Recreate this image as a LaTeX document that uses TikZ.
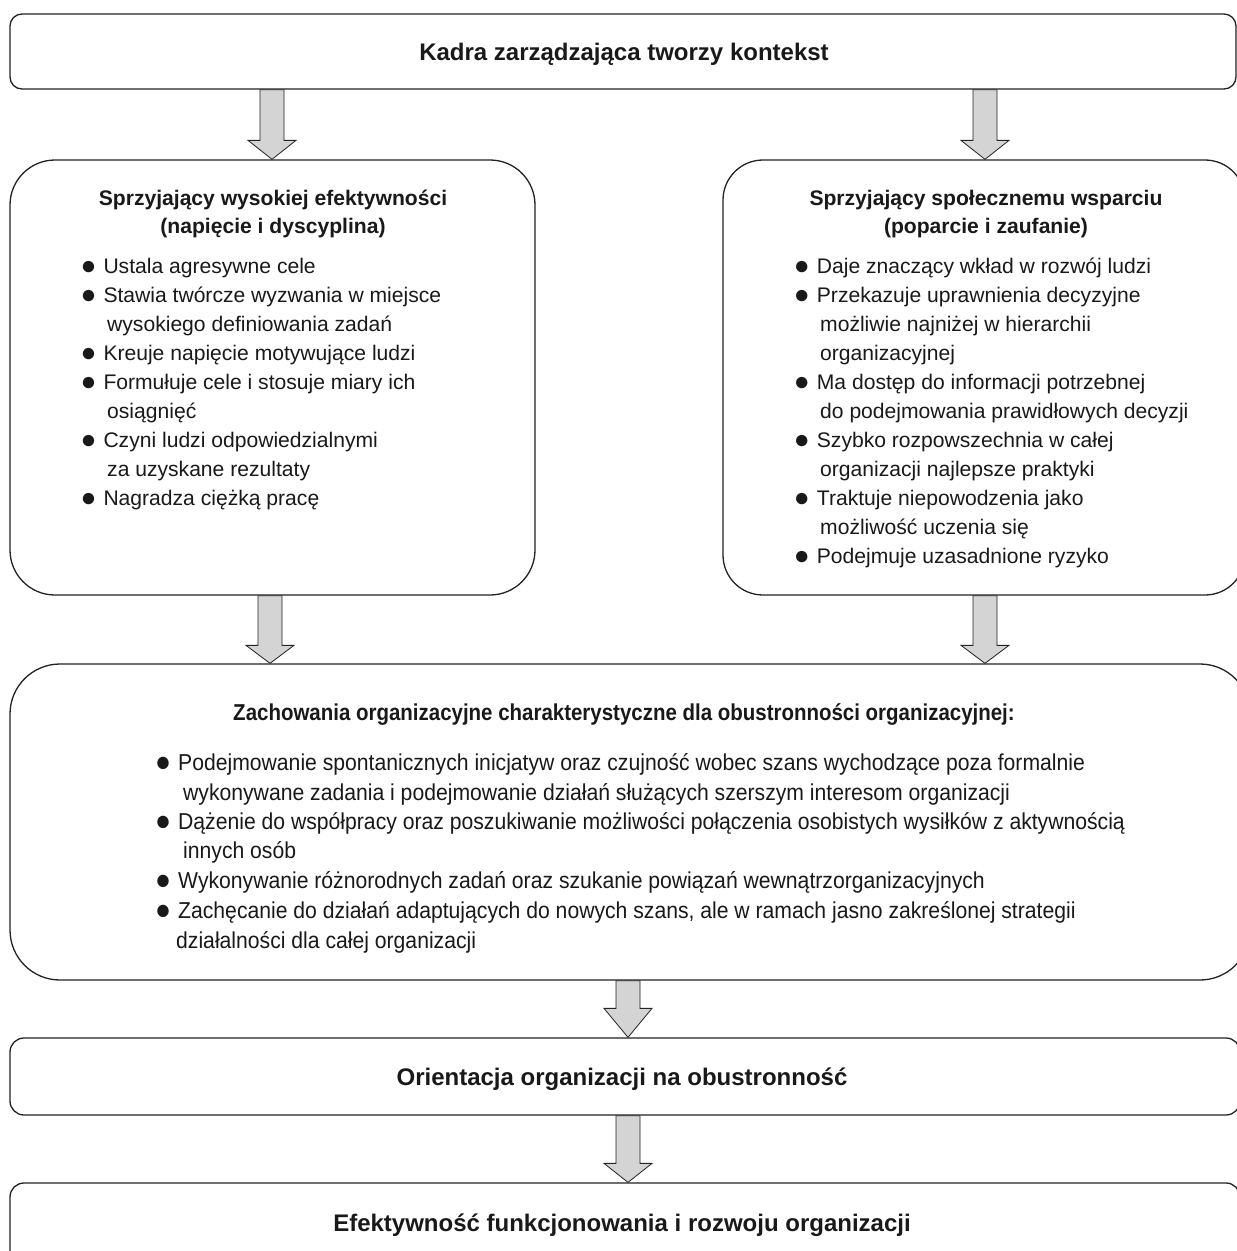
\documentclass[tikz,border=0pt]{standalone}
\usepackage{fontspec}
\usepackage{graphicx}
\setmainfont{Liberation Sans}
\newfontfamily\narrowfont[FakeStretch=0.92]{Liberation Sans}
\newfontfamily\narrowbfont[FakeStretch=0.89]{Liberation Sans Bold}
\usetikzlibrary{calc}
\definecolor{arrfill}{RGB}{212,212,212}
\definecolor{lineclr}{RGB}{35,35,35}
\definecolor{txtclr}{RGB}{25,25,25}
\newcommand\fatarrow[4]{%
  \draw[fatarr] let \p1=(#2.south), \p2=(#3.north) in
    (#1pt-12pt,\y1) -- (#1pt+12pt,\y1) -- (#1pt+12pt,\y2+#4pt) -- (#1pt+24pt,\y2+#4pt)
    -- (#1pt,\y2) -- (#1pt-24pt,\y2+#4pt) -- (#1pt-12pt,\y2+#4pt) -- cycle;}
\newcommand\bul[1]{\llap{\raisebox{-1.1pt}{\scalebox{1.25}{●}}\hspace{#1}}}
\begin{document}
\begin{tikzpicture}[x=1pt,y=-1pt,
  box/.style={draw=lineclr, line width=1.3pt, inner sep=0pt, fill=none},
  fatarr/.style={draw=lineclr, line width=0.8pt, fill=arrfill, line join=miter},
  bodytxt/.style={anchor=base west, inner sep=0pt, text=txtclr, font=\fontsize{21.1pt}{29pt}\selectfont},
  titletxt/.style={anchor=base, inner sep=0pt, text=txtclr, font=\fontsize{21.1pt}{29pt}\selectfont\bfseries},
  headtxt/.style={anchor=base, inner sep=0pt, text=txtclr, font=\fontsize{24pt}{28pt}\selectfont\bfseries},
  narrowtxt/.style={anchor=base west, inner sep=0pt, text=txtclr, font=\narrowfont\fontsize{23pt}{29pt}\selectfont},
  narrowtitle/.style={anchor=base, inner sep=0pt, text=txtclr, font=\narrowbfont\fontsize{23pt}{29pt}\selectfont}
]
\useasboundingbox (0,0) rectangle (1237,1251);
\clip (0,0) rectangle (1237,1251);
\fill[white] (0,0) rectangle (1237,1251);

% boxes
\node[box, rounded corners=12pt, minimum width=1226pt, minimum height=75pt] (top) at (623,51.5) {};
\node[box, rounded corners=45pt, minimum width=525pt, minimum height=435pt] (left) at (272.5,377.5) {};
\node[box, rounded corners=40pt, minimum width=522pt, minimum height=435pt] (right) at (984,377.5) {};
\node[box, rounded corners=50pt, minimum width=1240pt, minimum height=316pt] (mid) at (630,822) {};
\node[box, rounded corners=14pt, minimum width=1230pt, minimum height=77pt] (orient) at (625,1076.5) {};
\node[box, rounded corners=14pt, minimum width=1230pt, minimum height=92pt] (eff) at (625,1229) {};

% arrows
\fatarrow{272}{top}{left}{19}
\fatarrow{985}{top}{right}{19}
\fatarrow{270}{left}{mid}{18}
\fatarrow{985}{right}{mid}{18}
\fatarrow{628}{mid}{orient}{29}
\fatarrow{628}{orient}{eff}{19}

% texts
\node[headtxt] (topT) at (624,60) {Kadra zarządzająca tworzy kontekst};
\node[headtxt] (orientT) at (622,1085) {Orientacja organizacji na obustronność};
\node[headtxt] (effT) at (622,1231) {Efektywność funkcjonowania i rozwoju organizacji};

\node[titletxt] (LT1) at (273,205) {Sprzyjający wysokiej efektywności};
\node[titletxt] (LT2) at (273,233) {(napięcie i dyscyplina)};
\node[bodytxt] (L0) at (103.3,273) {\bul{7pt}Ustala agresywne cele};
\node[bodytxt] (L1) at (103.3,302) {\bul{7pt}Stawia twórcze wyzwania w miejsce};
\node[bodytxt] (L2) at (107,331) {wysokiego definiowania zadań};
\node[bodytxt] (L3) at (103.3,360) {\bul{7pt}Kreuje napięcie motywujące ludzi};
\node[bodytxt] (L4) at (103.3,389) {\bul{7pt}Formułuje cele i stosuje miary ich};
\node[bodytxt] (L5) at (107,418) {osiągnięć};
\node[bodytxt] (L6) at (103.3,447) {\bul{7pt}Czyni ludzi odpowiedzialnymi};
\node[bodytxt] (L7) at (107,476) {za uzyskane rezultaty};
\node[bodytxt] (L8) at (103.3,505) {\bul{7pt}Nagradza ciężką pracę};

\node[titletxt] (RT1) at (986,205) {Sprzyjający społecznemu wsparciu};
\node[titletxt] (RT2) at (986,233) {(poparcie i zaufanie)};
\node[bodytxt] (R0) at (816.7,273) {\bul{7pt}Daje znaczący wkład w rozwój ludzi};
\node[bodytxt] (R1) at (816.7,302) {\bul{7pt}Przekazuje uprawnienia decyzyjne};
\node[bodytxt] (R2) at (820,331) {możliwie najniżej w hierarchii};
\node[bodytxt] (R3) at (820,360) {organizacyjnej};
\node[bodytxt] (R4) at (816.7,389) {\bul{7pt}Ma dostęp do informacji potrzebnej};
\node[bodytxt] (R5) at (820,418) {do podejmowania prawidłowych decyzji};
\node[bodytxt] (R6) at (816.7,447) {\bul{7pt}Szybko rozpowszechnia w całej};
\node[bodytxt] (R7) at (820,476) {organizacji najlepsze praktyki};
\node[bodytxt] (R8) at (816.7,505) {\bul{7pt}Traktuje niepowodzenia jako};
\node[bodytxt] (R9) at (820,534) {możliwość uczenia się};
\node[bodytxt] (R10) at (816.7,563) {\bul{7pt}Podejmuje uzasadnione ryzyko};

\node[narrowtitle] (MT) at (624,720) {Zachowania organizacyjne charakterystyczne dla obustronności organizacyjnej:};
\node[narrowtxt] (M0) at (178,770) {\bul{7pt}Podejmowanie spontanicznych inicjatyw oraz czujność wobec szans wychodzące poza formalnie};
\node[narrowtxt] (M1) at (183,800) {wykonywane zadania i podejmowanie działań służących szerszym interesom organizacji};
\node[narrowtxt] (M2) at (178,829) {\bul{7pt}Dążenie do współpracy oraz poszukiwanie możliwości połączenia osobistych wysiłków z aktywnością};
\node[narrowtxt] (M3) at (183,858) {innych osób};
\node[narrowtxt] (M4) at (178,888) {\bul{7pt}Wykonywanie różnorodnych zadań oraz szukanie powiązań wewnątrzorganizacyjnych};
\node[narrowtxt] (M5) at (178,918) {\bul{7pt}Zachęcanie do działań adaptujących do nowych szans, ale w ramach jasno zakreślonej strategii};
\node[narrowtxt] (M6) at (176,948) {działalności dla całej organizacji};
\end{tikzpicture}
\end{document}
